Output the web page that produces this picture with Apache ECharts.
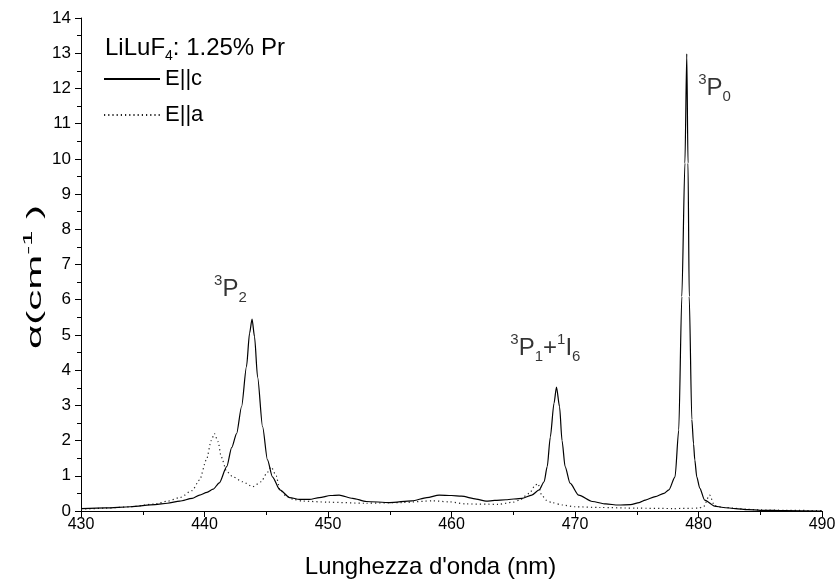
<!DOCTYPE html>
<html>
<head>
<meta charset="utf-8">
<script src="https://cdn.jsdelivr.net/npm/echarts@6/dist/echarts.min.js"></script>
<style>
  html, body { margin: 0; padding: 0; background: #fff; }
  #chart { width: 835px; height: 586px; }
</style>
</head>
<body>
<div id="chart"></div>
<script>
// E||c (solid) - wavelength (nm) and absorption (cm^-1)
const wlC = [430, 432, 434, 436, 437, 438, 439, 439.6, 440.2, 440.7, 441.2, 441.8, 442.2, 442.6, 443.0, 443.4, 443.65, 443.85, 444.05, 444.3, 444.7, 445.1, 445.5, 446.1, 446.9, 447.7, 448.5, 449.3, 450.2, 450.9, 452.0, 453.1, 455.0, 456.8, 458.0, 459.0, 460.0, 460.8, 462.0, 462.8, 463.5, 464.4, 465.7, 466.5, 467.1, 467.5, 467.75, 468.0, 468.3, 468.5, 468.75, 468.95, 469.2, 469.6, 470.3, 471.4, 472.5, 473.5, 474.5, 475.2, 475.7, 476.5, 477.2, 477.6, 478.1, 478.4, 478.65, 478.9, 479.05, 479.15, 479.25, 479.46, 479.6, 479.7, 479.86, 480.1, 480.5, 481.3, 482.0, 483.0, 484.0, 485.0, 487.0, 490.0];
const alphaC = [0.07, 0.09, 0.12, 0.18, 0.22, 0.28, 0.36, 0.45, 0.53, 0.62, 0.8, 1.26, 1.8, 2.2, 2.96, 4.1, 5.05, 5.45, 4.95, 3.8, 2.4, 1.45, 0.97, 0.6, 0.38, 0.33, 0.33, 0.38, 0.44, 0.45, 0.36, 0.27, 0.24, 0.29, 0.38, 0.45, 0.44, 0.42, 0.34, 0.28, 0.3, 0.32, 0.36, 0.45, 0.6, 0.83, 1.26, 2.1, 3.06, 3.52, 2.96, 2.0, 1.26, 0.79, 0.45, 0.27, 0.2, 0.17, 0.18, 0.24, 0.31, 0.41, 0.5, 0.6, 0.97, 2.3, 6.09, 9.88, 12.98, 9.88, 6.09, 2.6, 1.9, 1.45, 0.97, 0.65, 0.31, 0.14, 0.1, 0.07, 0.04, 0.02, 0.01, 0.0];

// E||a (dotted)
const wlA = [430, 432, 434, 436, 437, 438, 439, 439.6, 440.15, 440.55, 440.8, 441.1, 441.35, 441.8, 442.3, 443.1, 443.9, 444.6, 445.0, 445.4, 445.8, 446.1, 446.6, 447.2, 448, 450, 453, 456, 458.5, 459.8, 461.2, 463.8, 465.0, 465.5, 466.3, 466.8, 467.0, 467.3, 467.7, 468.1, 469, 470, 472, 475, 478, 480.0, 480.4, 480.9, 481.3, 482, 484, 485, 487, 490];
const alphaA = [0.05, 0.08, 0.12, 0.2, 0.28, 0.38, 0.58, 0.88, 1.45, 2.0, 2.2, 1.97, 1.54, 1.12, 0.97, 0.83, 0.69, 0.83, 1.05, 1.25, 1.0, 0.62, 0.42, 0.33, 0.28, 0.25, 0.22, 0.24, 0.29, 0.26, 0.2, 0.19, 0.25, 0.31, 0.5, 0.74, 0.78, 0.45, 0.3, 0.24, 0.17, 0.12, 0.1, 0.08, 0.07, 0.08, 0.12, 0.45, 0.15, 0.1, 0.05, 0.03, 0.02, 0.01];

// peak labels: position (nm, alpha) and rich text
const peakX = [442.1, 467.6, 481.3];
const peakY = [6.28, 4.63, 12.0];
const peakText = ['{sup|3}{m|P}{sub|2}', '{sup|3}{m|P}{sub|1}{m|+}{sup|1}{m|I}{sub|6}', '{sup|3}{m|P}{sub|0}'];

const FONT = 'Liberation Sans';
const zip = (xs, ys) => xs.map((x, i) => [x, ys[i]]);

const chart = echarts.init(document.getElementById('chart'));

const richSupSub = {
  m: { fontSize: 24, fontFamily: FONT, color: '#000', lineHeight: 32, verticalAlign: 'middle' },
  sup: { fontSize: 15, fontFamily: FONT, color: '#000', lineHeight: 15, verticalAlign: 'top' },
  sub: { fontSize: 15, fontFamily: FONT, color: '#000', lineHeight: 15, verticalAlign: 'bottom' }
};

const option = {
  backgroundColor: '#fff',
  animation: false,
  title: {
    text: '{m|LiLuF}{sub|4}{m|: 1.25% Pr}',
    left: 100,
    top: 28,
    textStyle: {
      fontWeight: 'normal',
      rich: {
        m: { fontSize: 24, fontFamily: FONT, fontWeight: 'normal', color: '#000', lineHeight: 30, verticalAlign: 'middle' },
        sub: { fontSize: 14, fontFamily: FONT, fontWeight: 'normal', color: '#000', lineHeight: 14, verticalAlign: 'bottom' }
      }
    }
  },
  legend: {
    orient: 'vertical',
    left: 98,
    top: 63,
    itemWidth: 56,
    itemHeight: 14,
    itemGap: 14,
    itemStyle: { opacity: 0 },
    textStyle: { fontSize: 22, fontFamily: FONT, color: '#000' },
    data: ['E||c', 'E||a']
  },
  graphic: [
    {
      // y-axis title, stretched along its reading direction like the original
      type: 'text',
      x: 35,
      y: 277,
      rotation: Math.PI / 2,
      scaleX: 2.1,
      scaleY: 1,
      style: {
        text: '{m|α(cm}{sup|-1}{m| )}',
        align: 'center',
        verticalAlign: 'middle',
        rich: {
          m: { fontSize: 20, fontFamily: FONT, fill: '#000', lineHeight: 26, verticalAlign: 'middle' },
          sup: { fontSize: 13, fontFamily: FONT, fill: '#000', lineHeight: 13, verticalAlign: 'top' }
        }
      }
    }
  ],
  grid: { left: 81, right: 13, top: 18, bottom: 75, containLabel: false, outerBoundsMode: 'none' },
  xAxis: {
    type: 'value',
    min: 430, max: 490, interval: 10,
    name: "Lunghezza d'onda (nm)",
    nameLocation: 'middle',
    nameGap: 44,
    nameTextStyle: { fontSize: 24, fontFamily: FONT, color: '#000', padding: [0, 42, 0, 0] },
    axisLine: { lineStyle: { color: '#000', width: 1 } },
    axisTick: { length: 6, lineStyle: { color: '#000' } },
    minorTick: { show: true, splitNumber: 2, length: 4, lineStyle: { color: '#000' } },
    axisLabel: { fontSize: 16, fontFamily: FONT, color: '#000', margin: 6 },
    splitLine: { show: false }
  },
  yAxis: {
    type: 'value',
    min: 0, max: 14, interval: 1,
    axisLine: { show: true, lineStyle: { color: '#000', width: 1 } },
    axisTick: { show: true, length: 6, lineStyle: { color: '#000' } },
    minorTick: { show: true, splitNumber: 2, length: 4, lineStyle: { color: '#000' } },
    axisLabel: { fontSize: 17, fontFamily: FONT, color: '#000', margin: 10 },
    splitLine: { show: false }
  },
  series: [
    {
      name: 'E||c',
      type: 'line',
      data: zip(wlC, alphaC),
      symbol: 'none',
      smooth: 0.25,
      smoothMonotone: 'x',
      lineStyle: { color: '#000', width: 1.2, type: 'solid' },
      itemStyle: { color: '#000' },
      z: 3
    },
    {
      name: 'E||a',
      type: 'line',
      data: zip(wlA, alphaA),
      symbol: 'none',
      smooth: 0.25,
      smoothMonotone: 'x',
      lineStyle: { color: '#222', width: 1.2, type: [1.2, 3] },
      itemStyle: { color: '#222' },
      z: 2
    },
    {
      name: 'labels',
      type: 'scatter',
      symbolSize: 0,
      silent: true,
      data: peakX.map((x, i) => ({
        value: [x, peakY[i]],
        label: {
          show: true,
          position: 'inside',
          formatter: peakText[i],
          rich: richSupSub
        }
      })),
      z: 4
    }
  ]
};

chart.setOption(option);
</script>
</body>
</html>
